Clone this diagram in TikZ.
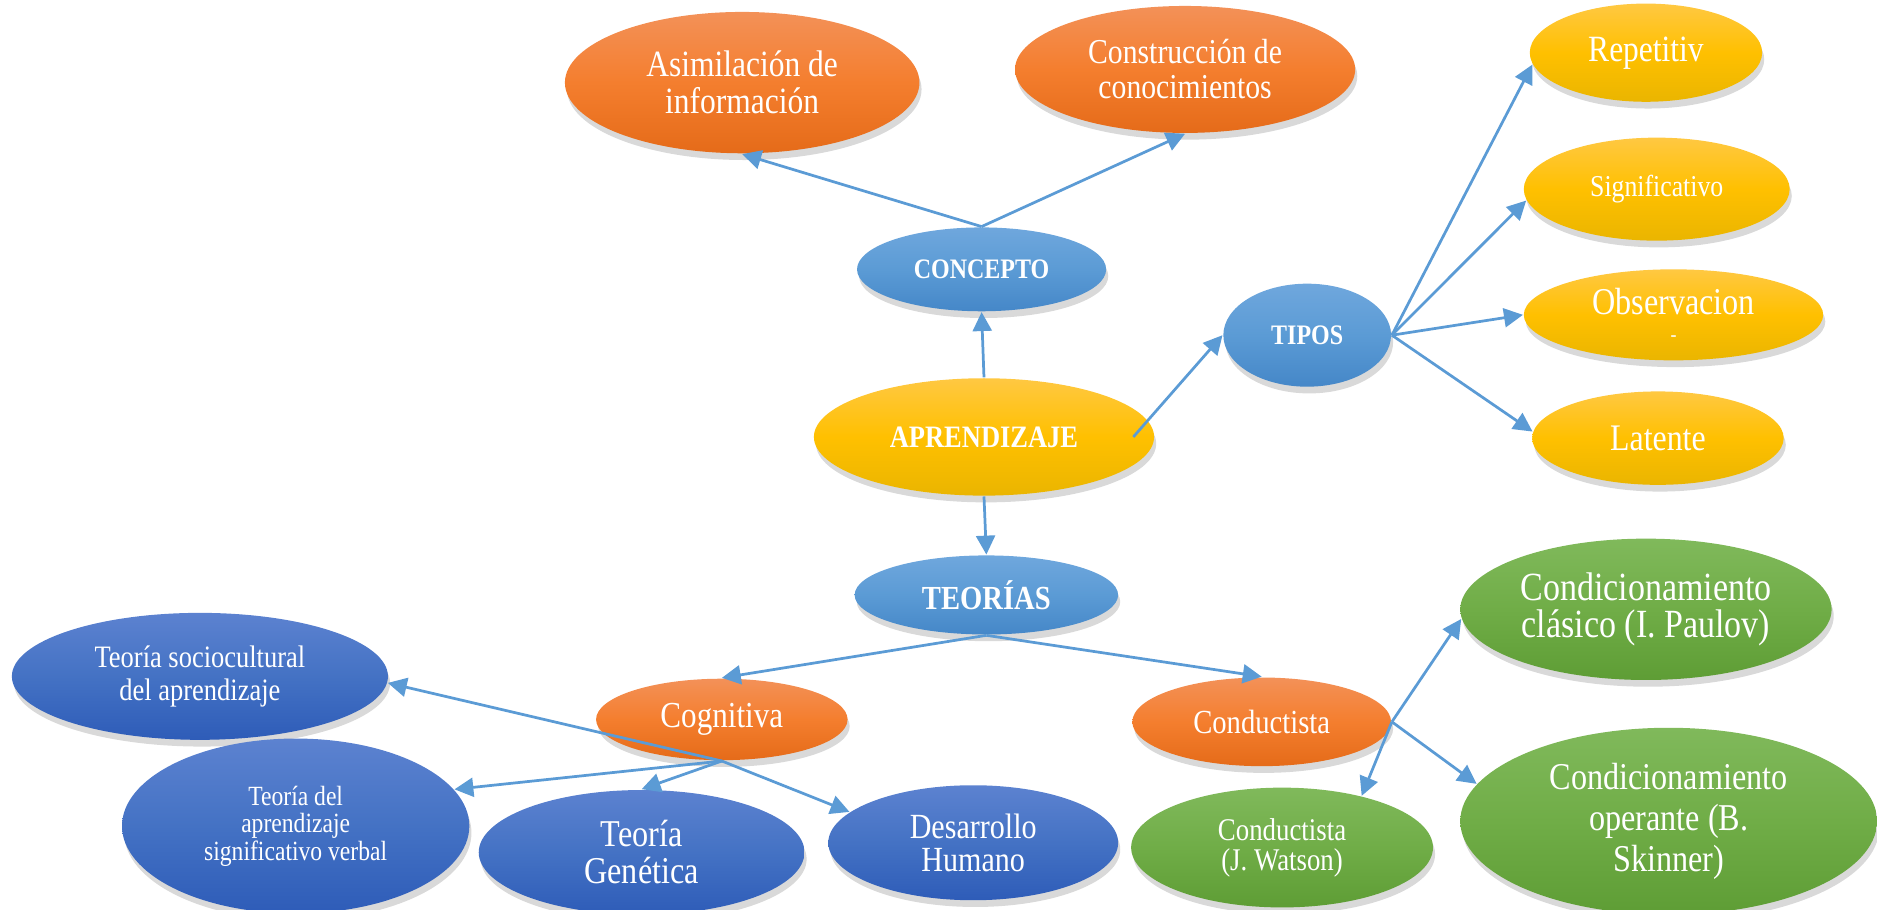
\documentclass[tikz,border=0pt]{standalone}
\usepackage{fontspec}
\setmainfont{Liberation Serif}[FakeStretch=0.85]
\usetikzlibrary{shapes.geometric,shadows,arrows.meta}

\definecolor{orTop}{HTML}{F39158}
\definecolor{orMid}{HTML}{F47E2E}
\definecolor{orBot}{HTML}{E56B19}
\definecolor{yeTop}{HTML}{FFC842}
\definecolor{yeMid}{HTML}{FFC000}
\definecolor{yeBot}{HTML}{EAB500}
\definecolor{lbTop}{HTML}{6FA7DD}
\definecolor{lbMid}{HTML}{5B9BD5}
\definecolor{lbBot}{HTML}{4587C8}
\definecolor{dbTop}{HTML}{5C82D0}
\definecolor{dbMid}{HTML}{4472C4}
\definecolor{dbBot}{HTML}{2E5CB8}
\definecolor{grTop}{HTML}{80B95B}
\definecolor{grMid}{HTML}{70AD47}
\definecolor{grBot}{HTML}{5E9D35}
\definecolor{lineblue}{HTML}{5B9BD5}

\tikzset{
  oval/.style={ellipse, inner sep=0pt, align=center, text=white,
    drop shadow={opacity=0.3, shadow xshift=0.5pt, shadow yshift=-1.6pt}},
  ovalorange/.style={oval, top color=orTop, bottom color=orBot, middle color=orMid},
  ovalyellow/.style={oval, top color=yeTop, bottom color=yeBot, middle color=yeMid},
  ovallight/.style={oval, top color=lbTop, bottom color=lbBot, middle color=lbMid},
  ovaldark/.style={oval, top color=dbTop, bottom color=dbBot, middle color=dbMid},
  ovalgreen/.style={oval, top color=grTop, bottom color=grBot, middle color=grMid},
  conn/.style={draw=lineblue, line width=0.65pt, -{Triangle[length=4.5pt,width=4.5pt]}},
}

\begin{document}
\begin{tikzpicture}[x=0.01cm, y=-0.01cm]
\useasboundingbox (0,0) rectangle (1568,760);

% centre
\node[ovalyellow, minimum width=2.84cm, minimum height=0.98cm, font=\fontsize{7.4}{8}\selectfont\bfseries] (apr) at (822,365) {APRENDIZAJE};
\node[ovallight, minimum width=2.08cm, minimum height=0.70cm, font=\fontsize{6.7}{7}\selectfont\bfseries] (concepto) at (820,225) {CONCEPTO};
\node[ovallight, minimum width=1.40cm, minimum height=0.86cm, font=\fontsize{6.7}{7}\selectfont\bfseries] (tipos) at (1092,280) {TIPOS};
\node[ovallight, minimum width=2.20cm, minimum height=0.66cm, font=\fontsize{8}{8}\selectfont\bfseries] (teorias) at (824,497) {TEORÍAS};

% concepto
\node[ovalorange, minimum width=2.96cm, minimum height=1.18cm, font=\fontsize{8.8}{8.8}\selectfont] (asim) at (620,69) {Asimilación de\\información};
\node[ovalorange, minimum width=2.84cm, minimum height=1.06cm, font=\fontsize{8.3}{8.3}\selectfont] (constr) at (990,58) {Construcción de\\conocimientos};

% tipos
\node[ovalyellow, minimum width=1.94cm, minimum height=0.82cm, font=\fontsize{8.8}{9}\selectfont] (rep) at (1375,44) {Repetitiv};
\node[ovalyellow, minimum width=2.22cm, minimum height=0.86cm, font=\fontsize{7.2}{8}\selectfont] (sig) at (1384,158) {Significativo};
\node[ovalyellow, minimum width=2.50cm, minimum height=0.76cm, font=\fontsize{9}{6.6}\selectfont] (obs) at (1398,263) {Observacion\\{\fontsize{5}{5}\selectfont -}};
\node[ovalyellow, minimum width=2.10cm, minimum height=0.78cm, font=\fontsize{8.9}{9}\selectfont] (lat) at (1385,366) {Latente};

% teorias
\node[ovalorange, minimum width=2.10cm, minimum height=0.68cm, font=\fontsize{8.7}{9}\selectfont] (cog) at (603,601) {Cognitiva};
\node[ovalorange, minimum width=2.16cm, minimum height=0.74cm, font=\fontsize{8}{8}\selectfont] (cond) at (1054,603) {Conductista};

% cognitiva
\node[ovaldark, minimum width=3.14cm, minimum height=1.06cm, font=\fontsize{7.4}{7.7}\selectfont] (socio) at (167,565) {Teoría sociocultural\\del aprendizaje};
\node[ovaldark, minimum width=2.90cm, minimum height=1.46cm, font=\fontsize{6.6}{6.5}\selectfont] (tdel) at (247,690) {Teoría del\\aprendizaje\\significativo verbal};
\node[ovaldark, minimum width=2.72cm, minimum height=1.04cm, font=\fontsize{9}{8.8}\selectfont] (gen) at (536,712) {Teoría\\Genética};
\node[ovaldark, minimum width=2.42cm, minimum height=0.96cm, font=\fontsize{8.4}{7.7}\selectfont] (des) at (813,704) {Desarrollo\\Humano};

% conductista
\node[ovalgreen, minimum width=3.10cm, minimum height=1.18cm, font=\fontsize{9.5}{8.8}\selectfont] (clas) at (1375,509) {Condicionamiento\\clásico (I. Paulov)};
\node[ovalgreen, minimum width=2.52cm, minimum height=1.00cm, font=\fontsize{7.5}{7.1}\selectfont] (wat) at (1071,708) {Conductista\\(J. Watson)};
\node[ovalgreen, minimum width=3.48cm, minimum height=1.56cm, font=\fontsize{9}{9.7}\selectfont] (oper) at (1394,686) {Condicionamiento\\operante (B.\\Skinner)};

% connectors
\draw[conn] (apr.north) -- (concepto.south);
\draw[conn] (concepto.north) -- (asim.south);
\draw[conn] (concepto.north) -- (constr.south);
\draw[conn] ([xshift=-1.8mm]apr.east) -- (tipos.west);
\draw[conn] (apr.south) -- (teorias.north);
\draw[conn] (tipos.east) -- (rep.186);
\draw[conn] (tipos.east) -- (sig.185);
\draw[conn] (tipos.east) -- (obs.west);
\draw[conn] (tipos.east) -- (lat.177);
\draw[conn] (teorias.south) -- (cog.north);
\draw[conn] (teorias.south) -- (cond.north);
\draw[conn] (cog.south) -- (socio.-2);
\draw[conn] (cog.south) -- (tdel.13);
\draw[conn] (cog.south) -- (gen.north);
\draw[conn] (cog.south) -- (des.166);
\draw[conn] (cond.east) -- (clas.183);
\draw[conn] (cond.east) -- (wat.33);
\draw[conn] (cond.east) -- (oper.169);
\end{tikzpicture}
\end{document}
